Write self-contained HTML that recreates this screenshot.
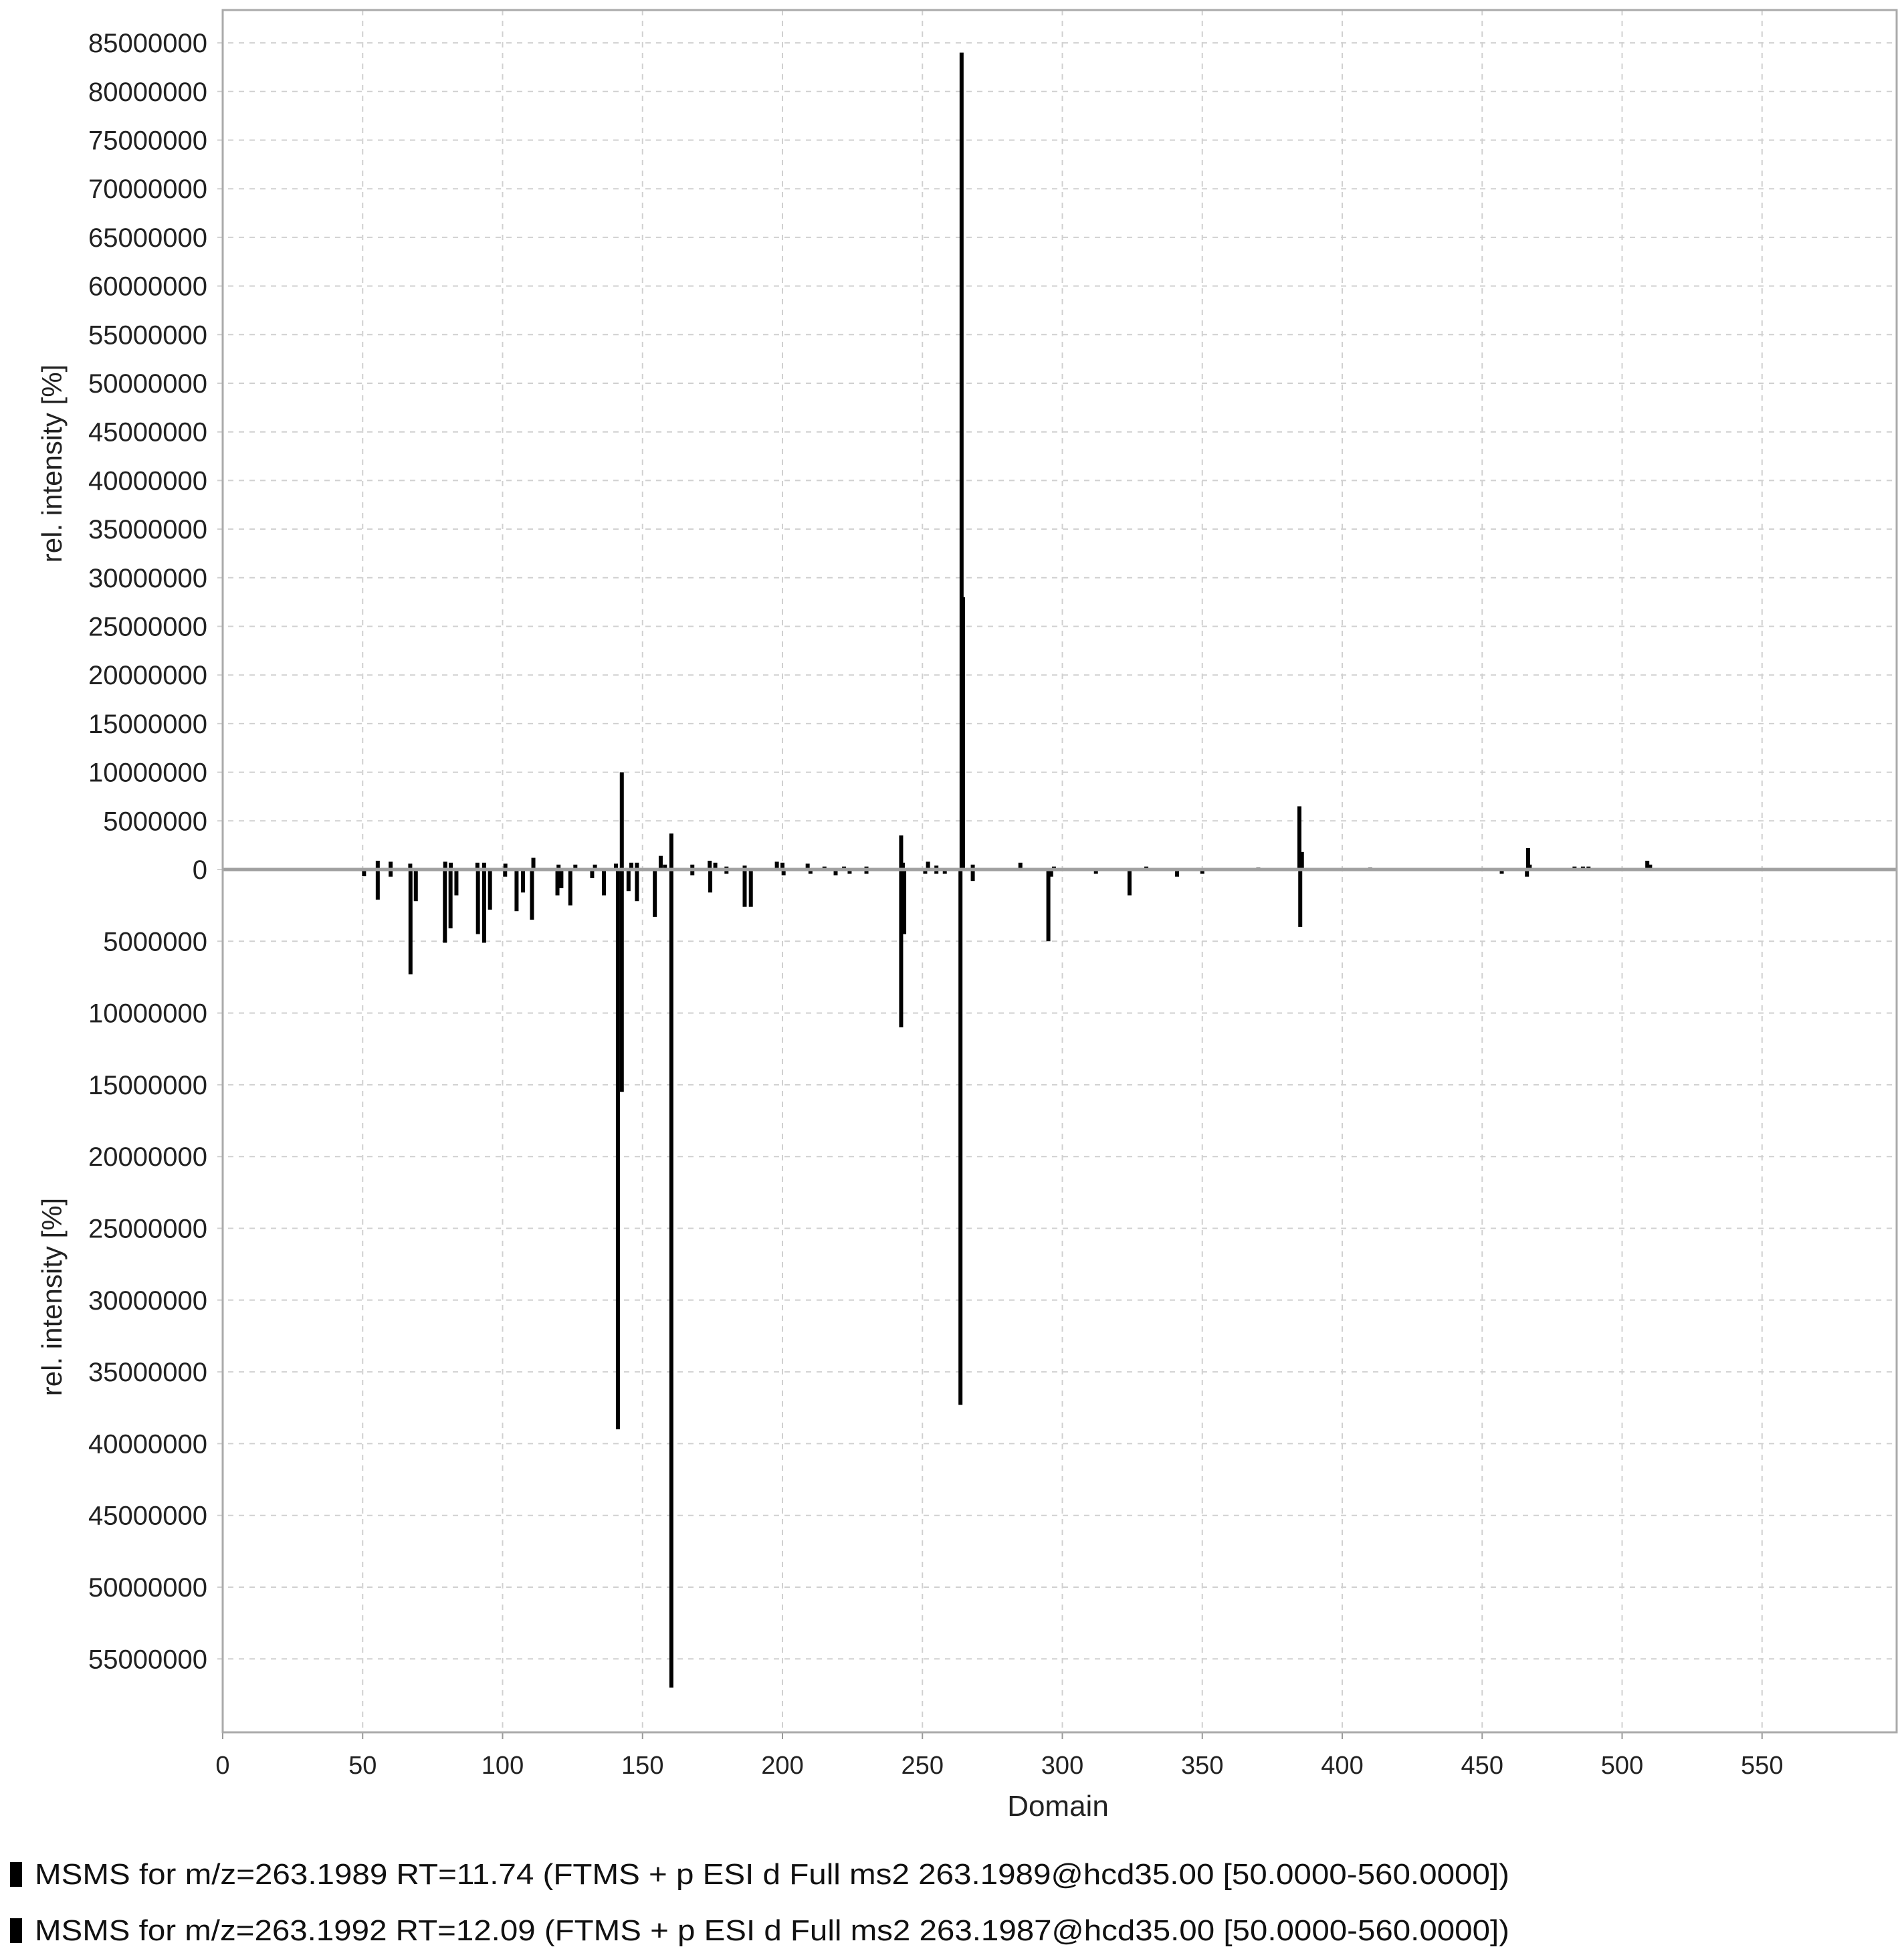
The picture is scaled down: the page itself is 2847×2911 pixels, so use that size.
<!DOCTYPE html>
<html><head><meta charset="utf-8"><style>
html,body{margin:0;padding:0;background:#fff;}
svg{display:block;font-family:"Liberation Sans",Arial,sans-serif;}
</style></head><body>
<svg id="chart" width="2847" height="2911" viewBox="0 0 2847 2911" xmlns="http://www.w3.org/2000/svg">
<rect x="0" y="0" width="2847" height="2911" fill="#fff"/>
<g id="grid"></g>
<g id="marks"></g>
<g id="axes"></g>
<text x="1582" y="2715" font-size="44" text-anchor="middle" fill="#222">Domain</text>
<text transform="translate(92,693) rotate(-90)" font-size="42" text-anchor="middle" fill="#222">rel. intensity [%]</text>
<text transform="translate(92,1939) rotate(-90)" font-size="42" text-anchor="middle" fill="#222">rel. intensity [%]</text>
<g>
<g>
<rect x="15" y="2784" width="18" height="37" fill="#000"/>
<text x="52" y="2817" font-size="44" fill="#111" textLength="2205" lengthAdjust="spacingAndGlyphs">MSMS for m/z=263.1989 RT=11.74 (FTMS + p ESI d Full ms2 263.1989@hcd35.00 [50.0000-560.0000])</text>
</g>
<g>
<rect x="15" y="2868" width="18" height="37" fill="#000"/>
<text x="52" y="2901" font-size="44" fill="#111" textLength="2205" lengthAdjust="spacingAndGlyphs">MSMS for m/z=263.1992 RT=12.09 (FTMS + p ESI d Full ms2 263.1987@hcd35.00 [50.0000-560.0000])</text>
</g>
</g>
</svg>
<script>
// data
const xTicks = [0,50,100,150,200,250,300,350,400,450,500,550];
const yTopTicks = [0,5000000,10000000,15000000,20000000,25000000,30000000,35000000,40000000,45000000,50000000,55000000,60000000,65000000,70000000,75000000,80000000,85000000];
const yBottomTicks = [5000000,10000000,15000000,20000000,25000000,30000000,35000000,40000000,45000000,50000000,55000000];
const topMz = [55.4,60,67,79.5,81.5,91,93.4,101,111,120,126,133,140.5,142.6,146,148,156.5,158,160.3,167.8,174,176,180,186.5,198,200,209,215,222,230,242.4,243,252,255,264.0,264.5,268,285,297,330,370,384.7,385.6,410,466.4,467,483,486,488,509,510];
const topVal = [900000,800000,600000,800000,700000,700000,700000,600000,1200000,500000,500000,500000,600000,10000000,700000,700000,1400000,500000,3700000,500000,900000,700000,300000,400000,800000,700000,600000,300000,300000,300000,3500000,700000,800000,400000,84000000,28000000,500000,700000,300000,300000,200000,6500000,1800000,200000,2200000,500000,300000,300000,300000,900000,500000];
const botMz = [50.5,55.4,60,67.1,69,79.4,81.4,83.5,91.2,93.4,95.5,100.9,105,107.3,110.5,119.6,121,124.2,132,136.2,141.2,142.6,145,148,154.4,160.3,167.8,174.2,180,186.5,188.7,200.4,210,219,224,230,242.4,243.5,251,255,258,263.6,268,295,296,312,324,341,350,385,457,466];
const botVal = [470000,2100000,500000,7300000,2200000,5100000,4100000,1800000,4500000,5100000,2800000,500000,2900000,1600000,3500000,1800000,1300000,2500000,600000,1800000,39000000,15500000,1500000,2200000,3300000,57000000,400000,1600000,300000,2600000,2600000,400000,300000,400000,300000,300000,11000000,4500000,300000,300000,300000,37300000,800000,5000000,500000,300000,1800000,500000,300000,4000000,300000,500000];

const NS='http://www.w3.org/2000/svg';
const L=333,R=2836,T=15,B=2590,ZERO=1300;
const xS = v => L + v*4.185;
const yTop = v => ZERO - v/5000000*72.7;
const yBot = v => ZERO + v/5000000*107.3;
function mk(tag,attrs,parent){const e=document.createElementNS(NS,tag);for(const k in attrs)e.setAttribute(k,attrs[k]);parent.appendChild(e);return e;}
const grid=document.getElementById('grid'),axes=document.getElementById('axes'),marks=document.getElementById('marks');

xTicks.forEach(t=>{
  const x=xS(t);
  const g=mk('line',{x1:x,x2:x,y1:T,y2:B,stroke:'#d0d0d0','stroke-width':2,'stroke-dasharray':'8 8'},grid);
  
  
  const tk=mk('line',{x1:x,x2:x,y1:B,y2:B+10,stroke:'#999','stroke-width':2},axes);
  
  
  const lb=mk('text',{x:x,y:2652,'font-size':38,'text-anchor':'middle',fill:'#222'},axes);
  lb.textContent=t;
  
  
});
function yTick(y,label){
  const g=mk('line',{x1:L-8,x2:R,y1:y,y2:y,stroke:'#d0d0d0','stroke-width':2,'stroke-dasharray':'8 8'},grid);
  
  
  const lb=mk('text',{x:310,y:y+14,'font-size':40,'text-anchor':'end',fill:'#222'},axes);
  lb.textContent=label;
  
  
}
yTopTicks.forEach(t=>yTick(yTop(t),t));
yBottomTicks.forEach(t=>yTick(yBot(t),t));

const frame=mk('rect',{x:L,y:T,width:R-L,height:B-T,fill:'none',stroke:'#aaa','stroke-width':3},axes);



topMz.forEach((m,i)=>{
  const x=xS(m);
  const l=mk('line',{x1:x,x2:x,y1:ZERO,y2:yTop(topVal[i]),stroke:'#000','stroke-width':6},marks);
  
  
});
botMz.forEach((m,i)=>{
  const x=xS(m);
  const l=mk('line',{x1:x,x2:x,y1:ZERO,y2:yBot(botVal[i]),stroke:'#000','stroke-width':6},marks);
  
  
});
const z=mk('line',{x1:L,x2:R,y1:ZERO,y2:ZERO,stroke:'#a0a0a0','stroke-width':5},marks);


</script>
</body></html>
